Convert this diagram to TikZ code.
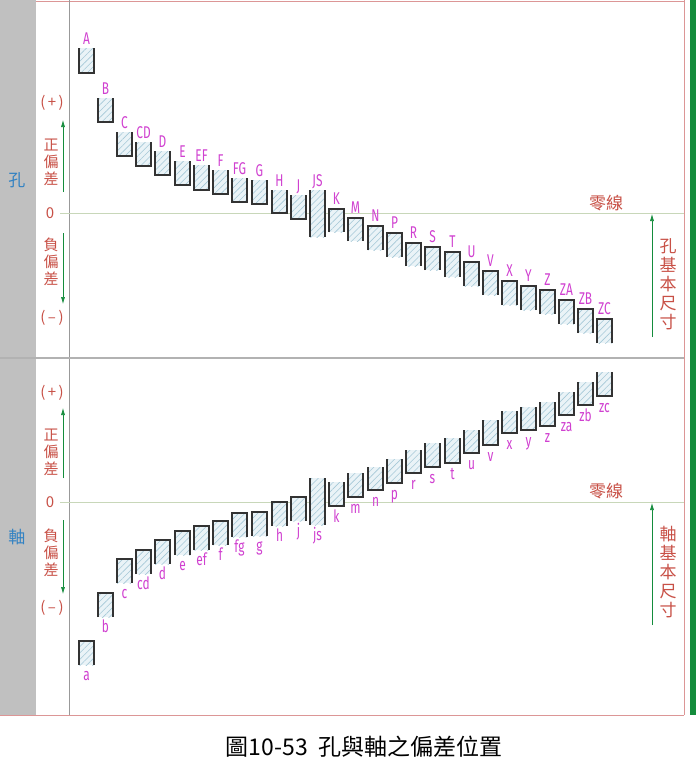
\documentclass[tikz,border=0pt]{standalone}
\usepackage{fontspec}
\usetikzlibrary{arrows.meta,patterns.meta}
\newfontfamily\cjk{Noto Sans CJK TC}
\newfontfamily\lblfont[FakeStretch=0.7]{Fira Sans}
\definecolor{lblmag}{RGB}{208,64,208}
\definecolor{devred}{RGB}{200,80,70}
\definecolor{sideblue}{RGB}{50,130,195}
\definecolor{arrgreen}{RGB}{20,140,60}
\definecolor{framepink}{RGB}{220,150,150}
\definecolor{zerogreen}{RGB}{200,215,185}
\definecolor{hatchbg}{RGB}{234,243,247}
\definecolor{hatchln}{RGB}{165,200,215}
\definecolor{colgray}{RGB}{192,192,192}
\tikzset{
  boxline/.style={draw=black!80, line width=1.6pt},
  hatch/.style={fill=hatchbg, postaction={pattern={Lines[angle=45,distance=4.5pt,line width=0.6pt]}, pattern color=hatchln}},
  grade/.style={font=\lblfont\fontsize{17}{17}\selectfont, text=lblmag, inner sep=0pt},
  devtext/.style={font=\cjk\fontsize{15}{17}\selectfont, text=devred, align=center, inner sep=0pt},
  basetext/.style={font=\cjk\fontsize{17}{19}\selectfont, text=devred, align=center, inner sep=0pt},
  sidetext/.style={font=\cjk\fontsize{17}{17}\selectfont, text=sideblue, inner sep=0pt},
  devarrow/.style={draw=arrgreen, line width=0.6pt, -{Latex[length=7pt,width=4pt]}},
}
\begin{document}
\begin{tikzpicture}[x=1pt,y=-1pt]
\useasboundingbox (0,0) rectangle (697,771);
\fill[white] (0,0) rectangle (697,771);
% frame
\fill[colgray] (0,0) rectangle (36,715);
\draw[framepink, line width=1pt] (36,1) -- (684,1);
\draw[framepink, line width=1pt] (0,715) -- (684,715);
\draw[framepink, line width=0.8pt] (684,0) -- (684,715);
\draw[black!40, line width=0.8pt] (69,0) -- (69,715);
\draw[black!30, line width=1.5pt] (0,358) -- (684,358);
\fill[arrgreen] (690,0) rectangle (696,715);
% zero lines
\draw[zerogreen, line width=0.8pt] (60,213) -- (684,213);
\draw[zerogreen, line width=0.8pt] (60,502) -- (684,502);

% holes (upper half)
\foreach \g/\x/\t/\b in {A/79/48/73, B/98/98/122, C/117/132/156, CD/136/142/166,
  D/155/151/175, E/175/161/185, EF/194/165/190, F/213/170/194, FG/232/178/202,
  G/252/180/204, H/272/190/213, J/291/195/219}{
  \fill[hatch] (\x,\t) rectangle (\x+15,\b);
  \draw[boxline] (\x,\t) -- (\x,\b) -- (\x+15,\b) -- (\x+15,\t);
  \node[grade, anchor=base] (h\g) at (\x+7.5,\t-4) {\g};
}
\fill[hatch] (310,190) rectangle (325,237);
\draw[boxline] (310,190) -- (310,237) (325,190) -- (325,237);
\node[grade, anchor=base] (hJS) at (317.5,186) {JS};
\foreach \g/\x/\t/\b in {K/329/209/232, M/348/218/241, N/368/226/250, P/387/233/257,
  R/406/243/266, S/425/247/270, T/445/252/277, U/464/262/286, V/483/271/295,
  X/502/281/305, Y/521/286/310, Z/540/290/314, ZA/559/300/324, ZB/578/309/333,
  ZC/597/319/343}{
  \fill[hatch] (\x,\t) rectangle (\x+15,\b);
  \draw[boxline] (\x,\b) -- (\x,\t) -- (\x+15,\t) -- (\x+15,\b);
  \node[grade, anchor=base] (h\g) at (\x+7.5,\t-5) {\g};
}

% shafts (lower half)
\foreach \g/\x/\t/\b in {a/79/641/665, b/98/593/617, c/117/559/583, cd/136/550/574,
  d/155/540/564, e/175/531/555, ef/194/526/550, f/213/521/545, fg/232/513/537,
  g/252/512/536, h/272/502/526, j/291/497/521}{
  \fill[hatch] (\x,\t) rectangle (\x+15,\b);
  \draw[boxline] (\x,\b) -- (\x,\t) -- (\x+15,\t) -- (\x+15,\b);
  \node[grade, anchor=base] (s\g) at (\x+7.5,\b+15) {\g};
}
\fill[hatch] (310,478) rectangle (325,525);
\draw[boxline] (310,478) -- (310,525) (325,478) -- (325,525);
\node[grade, anchor=base] (sjs) at (317.5,540) {js};
\foreach \g/\x/\t/\b in {k/329/482/506, m/348/473/497, n/368/467/490, p/387/459/483,
  r/406/450/473, s/425/443/467, t/445/438/463, u/464/430/453, v/483/420/445,
  x/502/411/433, y/521/407/430, z/540/402/426, za/559/392/415, zb/578/382/405,
  zc/597/372/396}{
  \fill[hatch] (\x,\t) rectangle (\x+15,\b);
  \draw[boxline] (\x,\t) -- (\x,\b) -- (\x+15,\b) -- (\x+15,\t);
  \node[grade, anchor=base] (s\g) at (\x+7.5,\b+16) {\g};
}

% left scale, hole
\node[sidetext] (hole) at (17,180) {孔};
\node[devtext] (hplus) at (52,103) {(\,+\,)};
\node[devtext] (hpos) at (51,162) {正\\偏\\差};
\node[devtext] (hzero) at (50,213) {0};
\node[devtext] (hneg) at (51,262) {負\\偏\\差};
\node[devtext] (hminus) at (52,318) {(\,–\,)};
\coordinate (hup0) at (63,192);
\coordinate (hup1) at (63,120);
\coordinate (hdn0) at (63,233);
\coordinate (hdn1) at (63,304);
\draw[devarrow] (hup0) -- (hup1);
\draw[devarrow] (hdn0) -- (hdn1);

% left scale, shaft
\node[sidetext] (shaft) at (17,537) {軸};
\node[devtext] (splus) at (52,393) {(\,+\,)};
\node[devtext] (spos) at (51,452) {正\\偏\\差};
\node[devtext] (szero) at (50,502) {0};
\node[devtext] (sneg) at (51,553) {負\\偏\\差};
\node[devtext] (sminus) at (52,608) {(\,–\,)};
\coordinate (sup0) at (63,478);
\coordinate (sup1) at (63,408);
\coordinate (sdn0) at (63,520);
\coordinate (sdn1) at (63,594);
\draw[devarrow] (sup0) -- (sup1);
\draw[devarrow] (sdn0) -- (sdn1);

% right side
\node[basetext] (hline) at (606,203) {零線};
\node[basetext] (hbase) at (668,284) {孔\\基\\本\\尺\\寸};
\coordinate (hb0) at (652,337);
\coordinate (hb1) at (652,214);
\draw[devarrow] (hb0) -- (hb1);
\node[basetext] (sline) at (606,491) {零線};
\node[basetext] (sbase) at (668,572) {軸\\基\\本\\尺\\寸};
\coordinate (sb0) at (652,625);
\coordinate (sb1) at (652,503);
\draw[devarrow] (sb0) -- (sb1);

% caption
\node[font=\cjk\fontsize{23}{23}\selectfont, inner sep=0pt] (cap) at (364,747) {圖10-53\ \ 孔與軸之偏差位置};
\end{tikzpicture}
\end{document}
